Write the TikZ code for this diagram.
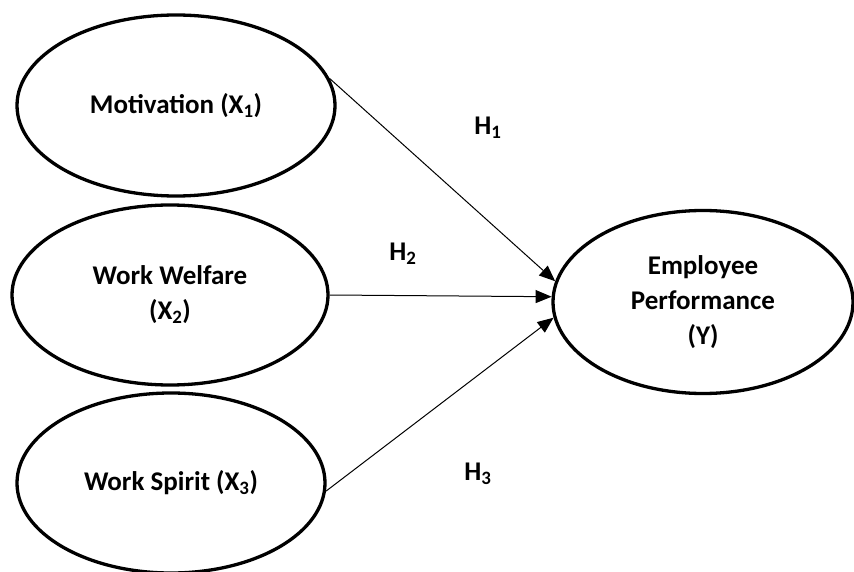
\documentclass[tikz,border=0pt]{standalone}
\usepackage{fontspec}
\setmainfont{Carlito}
\usetikzlibrary{shapes.geometric}
\usetikzlibrary{arrows.meta}

\begin{document}
\begin{tikzpicture}[x=1pt,y=-1pt,
  latent/.style={ellipse,draw,line width=3.3pt,inner sep=0pt,align=center,
    font=\fontsize{27}{35}\selectfont\bfseries},
  link/.style={line width=1pt,-{Triangle[length=16pt,width=13pt]}},
  hyp/.style={font=\fontsize{27}{35}\selectfont\bfseries}]

  \useasboundingbox (0,0) rectangle (854,572);

  \node[latent,minimum width=318pt,minimum height=181pt] (mot) at (176,105.5) {Motivation (X\textsubscript{1})};
  \node[latent,minimum width=316pt,minimum height=180pt] (wel) at (170,295) {Work Welfare\\(X\textsubscript{2})};
  \node[latent,minimum width=308pt,minimum height=180pt] (spi) at (171,483) {Work Spirit (X\textsubscript{3})};
  \node[latent,minimum width=300pt,minimum height=183pt] (emp) at (703,302) {Employee\\Performance\\(Y)};

  \draw[link] (mot.10) -- (emp.172);
  \draw[link] (wel.east) -- (emp.178);
  \draw[link] (spi.-3) -- (emp.-174);

  \node[hyp] (h1) at (488,128) {H\textsubscript{1}};
  \node[hyp] (h2) at (403,254) {H\textsubscript{2}};
  \node[hyp] (h3) at (478,474) {H\textsubscript{3}};

\end{tikzpicture}
\end{document}
